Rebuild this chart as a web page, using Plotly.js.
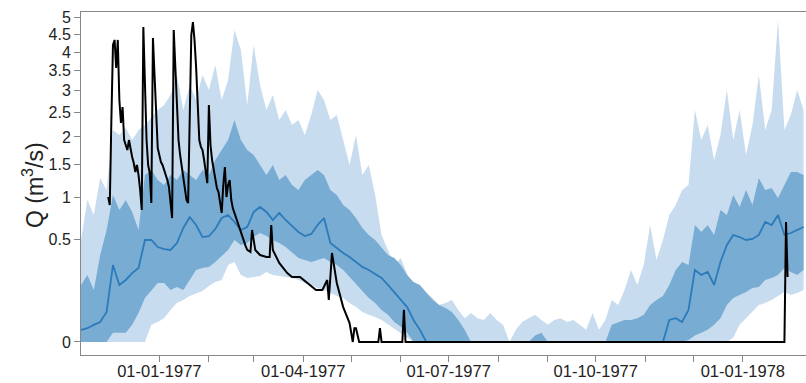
<!DOCTYPE html>
<html>
<head>
<meta charset="utf-8">
<script src="https://cdn.plot.ly/plotly-3.0.1.min.js"></script>
<style>html,body{margin:0;padding:0;background:#fff;}#chart{width:806px;height:383px;}</style>
</head>
<body>
<div id="chart"></div>
<script>
// Band series: one value every 4 days starting 1976-11-13 (Q in m3/s)
const bandStart = '1976-11-13';
const bandStepDays = 4;

const upper95 = [0.495,0.959,0.767,1.279,1.099,2.138,2.038,2.178,1.941,2.138,
  2.24,2.387,2.56,2.672,2.902,3.391,2.56,3.141,2.785,3.391,
  3.02,3.649,2.785,3.265,4.63,4.055,2.672,4.195,3.141,2.56,
  2.902,2.344,2.56,2.24,2.344,2.038,2.451,3.02,2.785,2.344,
  2.451,1.941,1.49,2.038,1.327,1.49,1.028,0.545,0.403,0.282,
  0.336,0.214,0.129,0.139,0.114,0.092,0.065,0.072,0.084,0.049,
  0.027,0.04,0.027,0.023,0.04,0.023,0.014,0,0.007,0.019,
  0.027,0.035,0.023,0.014,0.023,0.027,0.019,0.023,0.014,0.007,
  0.04,0.007,0.023,0.084,0.065,0.129,0.247,0.155,0.282,0.651,
  0.32,0.495,0.767,0.893,1.099,1.172,2.56,1.941,2.24,1.576,
  2.038,3.02,1.941,2.56,1.663,2.24,3.391,2.138,2.56,4.93,
  2.138,2.451,3.02,2.56];

const upper50 = [0.155,0.214,0.129,0.36,0.597,1.028,0.829,0.959,0.804,0.597,
  1.327,1.407,1.248,1.172,1.327,1.248,1.407,1.327,1.248,1.407,
  1.327,1.576,1.753,1.941,2.344,1.941,1.753,1.663,1.49,1.327,
  1.49,1.248,1.327,1.172,1.099,1.248,1.327,1.407,1.327,1.099,
  1.028,0.893,0.829,0.731,0.618,0.545,0.495,0.42,0.36,0.336,
  0.282,0.214,0.171,0.155,0.119,0.084,0.065,0.055,0.043,0.023,
  0.007,0,0,0,0,0,0,0,0,0,
  0,0.002,0.004,0,0,0,0,0,0,0,
  0,0,0,0.014,0.019,0.023,0.023,0.027,0.035,0.065,
  0.084,0.101,0.155,0.247,0.304,0.282,0.651,0.576,0.651,0.545,
  0.829,0.767,1.028,0.867,1.099,0.893,1.279,1.099,1.128,0.986,
  1.172,1.375,1.375,1.327];

const median = [0.007,0.009,0.014,0.019,0.043,0.282,0.155,0.183,0.226,0.26,
  0.495,0.495,0.429,0.411,0.403,0.466,0.618,0.743,0.651,0.524,
  0.534,0.607,0.731,0.767,0.685,0.597,0.629,0.804,0.867,0.804,
  0.708,0.792,0.708,0.64,0.576,0.534,0.555,0.651,0.731,0.466,
  0.42,0.377,0.344,0.304,0.268,0.247,0.22,0.195,0.155,0.119,
  0.084,0.058,0.023,0.007,0,0,0,0,0,0,
  0,0,0,0,0,0,0,0,0,0,
  0,0,0,0,0,0,0,0,0,0,
  0,0,0,0,0,0,0,0,0,0,
  0,0,0.023,0.027,0.019,0.049,0.247,0.214,0.233,0.155,
  0.304,0.448,0.545,0.524,0.495,0.505,0.545,0.685,0.651,0.767,
  0.545,0.565,0.597,0.629];

const lower50 = [0,0,0,0,0,0.004,0.004,0.004,0.014,0.04,
  0.092,0.129,0.166,0.166,0.129,0.144,0.129,0.183,0.247,0.26,
  0.268,0.304,0.352,0.403,0.495,0.448,0.466,0.524,0.565,0.534,
  0.495,0.466,0.429,0.385,0.336,0.32,0.304,0.32,0.336,0.304,
  0.282,0.247,0.201,0.155,0.119,0.092,0.072,0.049,0.035,0.019,
  0.011,0.004,0,0,0,0,0,0,0,0,
  0,0,0,0,0,0,0,0,0,0,
  0,0,0,0,0,0,0,0,0,0,
  0,0,0,0,0,0,0,0,0,0,
  0,0,0,0,0,0.0002,0.002,0.004,0.007,0.014,
  0.027,0.065,0.092,0.105,0.119,0.139,0.144,0.183,0.195,0.214,
  0.26,0.233,0.214,0.247];

const lower95 = [0,0,0,0,0,0,0,0,0,0,
  0,0.014,0.019,0.027,0.049,0.072,0.084,0.101,0.114,0.124,
  0.149,0.171,0.183,0.282,0.304,0.214,0.195,0.201,0.207,0.233,
  0.214,0.207,0.201,0.195,0.183,0.166,0.155,0.139,0.129,0.114,
  0.101,0.092,0.072,0.058,0.043,0.035,0.03,0.023,0.015,0.009,
  0.004,0.001,0,0,0,0,0,0,0,0,
  0,0,0,0,0,0,0,0,0,0,
  0,0,0,0,0,0,0,0,0,0,
  0,0,0,0,0,0,0,0,0,0,
  0,0,0,0,0,0,0,0,0,0,
  0,0,0.001,0.014,0.027,0.043,0.065,0.072,0.084,0.101,
  0.119,0.105,0.114,0.129];

// Observed discharge
const obsDates = ['1976-11-30','1976-12-01','1976-12-02','1976-12-03','1976-12-04','1976-12-05','1976-12-06','1976-12-07','1976-12-08','1976-12-09',
  '1976-12-10','1976-12-11','1976-12-12','1976-12-13','1976-12-14','1976-12-15','1976-12-16','1976-12-17','1976-12-18','1976-12-19',
  '1976-12-20','1976-12-21','1976-12-22','1976-12-23','1976-12-24','1976-12-25','1976-12-26','1976-12-27','1976-12-28','1976-12-29',
  '1976-12-30','1976-12-31','1977-01-01','1977-01-02','1977-01-03','1977-01-04','1977-01-05','1977-01-06','1977-01-07','1977-01-08',
  '1977-01-09','1977-01-10','1977-01-11','1977-01-12','1977-01-13','1977-01-14','1977-01-15','1977-01-16','1977-01-17','1977-01-18',
  '1977-01-19','1977-01-20','1977-01-21','1977-01-22','1977-01-23','1977-01-24','1977-01-25','1977-01-26','1977-01-27','1977-01-28',
  '1977-01-29','1977-01-30','1977-01-31','1977-02-01','1977-02-02','1977-02-03','1977-02-04','1977-02-05','1977-02-06','1977-02-07',
  '1977-02-08','1977-02-09','1977-02-10','1977-02-11','1977-02-12','1977-02-13','1977-02-14','1977-02-15','1977-02-16','1977-02-17',
  '1977-02-18','1977-02-19','1977-02-20','1977-02-21','1977-02-22','1977-02-23','1977-02-24','1977-02-25','1977-02-27','1977-02-28',
  '1977-03-02','1977-03-05','1977-03-09','1977-03-11','1977-03-12','1977-03-13','1977-03-17','1977-03-22','1977-03-25','1977-03-30',
  '1977-04-03','1977-04-09','1977-04-13','1977-04-16','1977-04-17','1977-04-19','1977-04-22','1977-04-26','1977-04-30','1977-05-02',
  '1977-05-03','1977-05-04','1977-05-06','1977-05-18','1977-05-19','1977-05-20','1977-06-02','1977-06-03','1977-06-04','1978-01-27',
  '1978-01-28','1978-01-29'];
const obsQ = [1.0,0.893,2.34,4.195,4.34,3.571,4.34,2.786,2.281,2.627,
  1.94,1.846,1.753,1.94,1.753,1.628,1.524,1.375,1.49,1.326,
  1.099,0.829,4.72,2.786,1.94,1.49,1.358,0.919,4.396,3.39,
  2.344,1.79,1.664,1.54,1.49,1.407,1.358,1.248,1.143,0.959,
  0.731,4.63,3.6,2.56,1.94,1.663,1.457,1.295,1.143,0.959,
  0.919,2.14,4.483,4.87,4.34,3.6,2.49,1.94,1.81,1.753,
  1.575,1.375,1.2,2.67,1.846,1.575,1.407,1.248,1.128,1.07,
  0.893,0.792,1.172,1.457,1.0,1.172,1.248,0.959,0.85,0.79,
  0.743,0.685,0.618,0.565,0.514,0.476,0.438,0.403,0.385,0.597,
  0.403,0.36,0.344,0.344,0.651,0.403,0.297,0.226,0.201,0.201,
  0.171,0.129,0.129,0.183,0.084,0.377,0.166,0.058,0.017,0,
  0.009,0.009,0,0,0.009,0,0,0.049,0,0,
  0.685,0.201];

// Axis ticks
const yTickValues = [0,0.5,1,1.5,2,2.5,3,3.5,4,4.5,5];
const yTickLabels = ['0','0.5','1','1.5','2','2.5','3','3.5','4','4.5','5'];
const xTickDates = ['1977-01-01','1977-04-01','1977-07-01','1977-10-01','1978-01-01'];
const xTickLabels = ['01-01-1977','01-04-1977','01-07-1977','01-10-1977','01-01-1978'];
const xMinorTickDates = ['1977-02-01','1977-03-01','1977-05-01','1977-06-01','1977-08-01','1977-09-01','1977-11-01','1977-12-01'];
const yTitle = 'Q (m<sup>3</sup>/s)';

// ---- build ----
function bandDates(n){
  const out=[]; const t0=Date.parse(bandStart+'T00:00:00Z');
  for(let i=0;i<n;i++){ const d=new Date(t0+i*bandStepDays*86400000); out.push(d.toISOString().slice(0,10)); }
  return out;
}
const bx = bandDates(upper95.length);
const sq = a => a.map(v => Math.sqrt(v));

const light = '#c8dcef', medium = '#79acd3', medLine = '#2b7bba';
const traces = [
  {x:bx, y:sq(upper95), type:'scatter', mode:'lines', line:{width:0,color:light}, hoverinfo:'skip', showlegend:false},
  {x:bx, y:sq(lower95), type:'scatter', mode:'lines', line:{width:0,color:light}, fill:'tonexty', fillcolor:light, hoverinfo:'skip', showlegend:false},
  {x:bx, y:sq(upper50), type:'scatter', mode:'lines', line:{width:0,color:medium}, hoverinfo:'skip', showlegend:false},
  {x:bx, y:sq(lower50), type:'scatter', mode:'lines', line:{width:0,color:medium}, fill:'tonexty', fillcolor:medium, hoverinfo:'skip', showlegend:false},
  {x:bx, y:sq(median), type:'scatter', mode:'lines', line:{width:1.8,color:medLine}, showlegend:false},
  {x:obsDates, y:sq(obsQ), type:'scatter', mode:'lines', line:{width:2,color:'#000'}, showlegend:false}
];

const font = 'Liberation Sans, Arial, Helvetica, sans-serif';
const layout = {
  width:806, height:383,
  margin:{l:81, r:0, t:12, b:28},
  paper_bgcolor:'#fff', plot_bgcolor:'#fff',
  showlegend:false,
  xaxis:{
    type:'date', range:['1976-11-13','1978-02-09 12:00'],
    tickmode:'array', tickvals:xTickDates, ticktext:xTickLabels,
    ticks:'outside', ticklen:6, tickwidth:1, tickcolor:'#888',
    ticklabelstandoff:-5,
    minor:{tickmode:'array', tickvals:xMinorTickDates, ticks:'outside', ticklen:6, tickwidth:1, tickcolor:'#888', showgrid:false},
    showline:true, linecolor:'#888', linewidth:1, mirror:true,
    showgrid:false, zeroline:false,
    tickfont:{family:font, size:16.5, color:'#222'}
  },
  yaxis:{
    range:[-0.0897, 2.2759],
    tickmode:'array', tickvals:yTickValues.map(v=>Math.sqrt(v)), ticktext:yTickLabels,
    ticks:'outside', ticklen:6, tickwidth:1, tickcolor:'#888',
    showline:true, linecolor:'#888', linewidth:1,
    showgrid:false, zeroline:false,
    tickfont:{family:font, size:16, color:'#222'}
  },
  annotations:[{
    text:yTitle, xref:'paper', yref:'paper', x:-0.0662, y:0.4956,
    xanchor:'center', yanchor:'middle', textangle:-90, showarrow:false,
    font:{family:font, size:23, color:'#222'}
  }]
};
Plotly.newPlot('chart', traces, layout, {staticPlot:true, displayModeBar:false});
</script>
</body>
</html>
